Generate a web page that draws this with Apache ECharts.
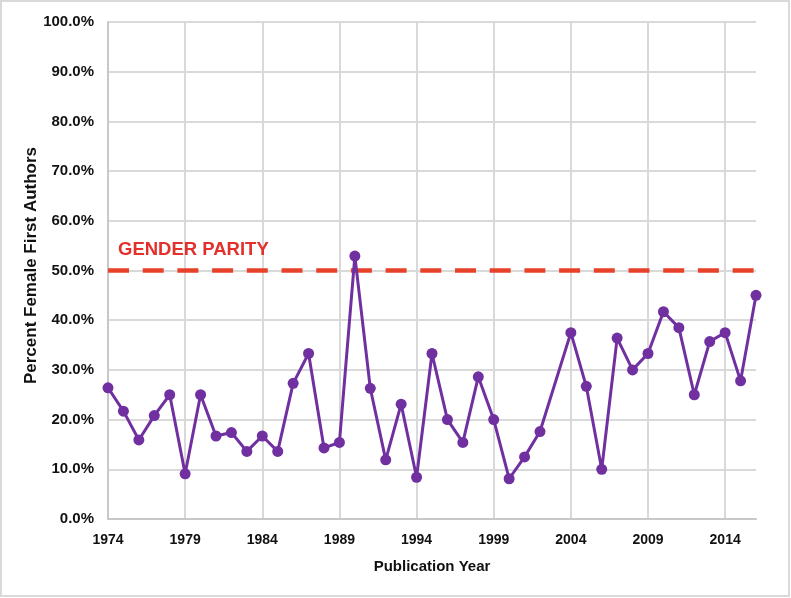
<!DOCTYPE html>
<html>
<head>
<meta charset="utf-8">
<script src="https://cdn.jsdelivr.net/npm/echarts@6/dist/echarts.min.js"></script>
<style>
html,body{margin:0;padding:0;background:#fff;}
#chart{width:791px;height:598px;}
</style>
</head>
<body>
<div id="chart"></div>
<script>
// Publication years (category axis)
var years = ['1974','1975','1976','1977','1978','1979','1980','1981','1982','1983',
  '1984','1985','1986','1987','1988','1989','1990','1991','1992','1993',
  '1994','1995','1996','1997','1998','1999','2000','2001','2002','2003',
  '2004','2005','2006','2007','2008','2009','2010','2011','2012','2013',
  '2014','2015','2016'];
// Percent female first authors (null = no data that year)
var percentFemale = [26.4, 21.7, 15.9, 20.8, 25.0, 9.1, 25.0, 16.7, 17.4, 13.6,
  16.7, 13.6, 27.3, 33.3, 14.3, 15.4, 52.9, 26.3, 11.9, 23.1,
  8.4, 33.3, 20.0, 15.4, 28.6, 20.0, 8.1, 12.5, 17.6, null,
  37.5, 26.7, 10.0, 36.4, 30.0, 33.3, 41.7, 38.5, 25.0, 35.7,
  37.5, 27.8, 45.0];
var parityLevel = 50;
var parityLabel = 'GENDER PARITY';
var xAxisTitle = 'Publication Year';
var yAxisTitle = 'Percent Female First Authors';

var FONT = '"Liberation Sans", Arial, sans-serif';
var chart = echarts.init(document.getElementById('chart'), null, {renderer: 'canvas'});
chart.setOption({
  backgroundColor: '#ffffff',
  animation: false,
  grid: {left: 108, right: 35, top: 22, bottom: 79, containLabel: false},
  xAxis: {
    type: 'category',
    data: years,
    boundaryGap: false,
    name: xAxisTitle,
    nameLocation: 'middle',
    nameGap: 40,
    nameMoveOverlap: false,
    nameTextStyle: {fontFamily: FONT, fontWeight: 'bold', fontSize: 15, color: '#111'},
    axisLine: {show: true, lineStyle: {color: '#c8c8c8', width: 2}},
    axisTick: {show: false},
    axisLabel: {interval: 4, margin: 14, fontFamily: FONT, fontWeight: 'bold', fontSize: 14, color: '#111'},
    splitLine: {show: true, interval: 4, lineStyle: {color: '#d9d9d9', width: 2}}
  },
  yAxis: {
    type: 'value',
    min: 0, max: 100, interval: 10,
    name: yAxisTitle,
    nameLocation: 'middle',
    nameGap: 68,
    nameMoveOverlap: false,
    nameRotate: 90,
    nameTextStyle: {fontFamily: FONT, fontWeight: 'bold', fontSize: 17, color: '#111', padding: [0, 0, 0, 10]},
    axisLine: {show: true, lineStyle: {color: '#c8c8c8', width: 2}},
    axisTick: {show: false},
    axisLabel: {margin: 14, fontFamily: FONT, fontWeight: 'bold', fontSize: 15, color: '#111',
      formatter: function (v) { return v.toFixed(1) + '%'; }},
    splitLine: {show: true, lineStyle: {color: '#d9d9d9', width: 2}}
  },
  series: [{
    type: 'line',
    data: percentFemale,
    connectNulls: true,
    symbol: 'circle',
    symbolSize: 11,
    showAllSymbol: true,
    itemStyle: {color: '#7030a0'},
    lineStyle: {color: '#7030a0', width: 3},
    z: 3,
    markLine: {
      silent: true,
      symbol: ['none', 'none'],
      label: {show: false},
      lineStyle: {color: '#e8412a', width: 4.5, type: [21, 13.7], cap: 'butt'},
      data: [{yAxis: parityLevel}],
      z: 2
    }
  }],
  graphic: [
    {type: 'text', left: 118, top: 240, z: 100,
      style: {text: parityLabel, fill: '#e3302b', font: 'bold 18.5px ' + FONT}},
    {type: 'rect', shape: {x: 1, y: 1, width: 788, height: 595},
      style: {fill: 'none', stroke: '#d9d9d9', lineWidth: 2}, silent: true}
  ]
});
</script>
</body>
</html>
